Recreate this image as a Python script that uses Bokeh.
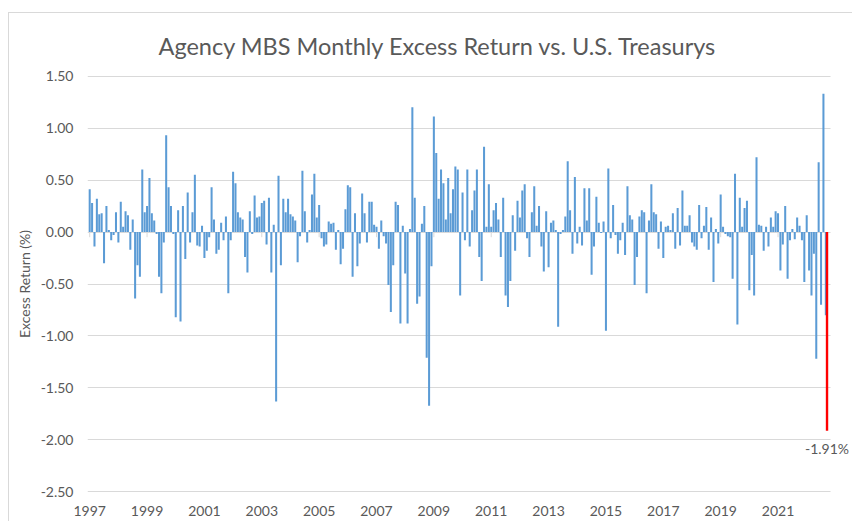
import pandas as pd
from bokeh.plotting import figure
from bokeh.models import Range1d, FixedTicker, NumeralTickFormatter, Label, ColumnDataSource, BoxAnnotation
from bokeh.transform import dodge
from bokeh.embed import file_html
from bokeh.resources import INLINE

# Monthly excess returns (%), Jan 1997 - Sep 2022
ret_1997_2000 = [0.41, 0.28, -0.14, 0.32, 0.17, 0.18, -0.30, 0.25, 0.02, -0.08, -0.03, 0.19,
                 -0.10, 0.29, 0.05, 0.20, 0.16, -0.17, 0.12, -0.64, -0.32, -0.43, 0.60, 0.19,
                 0.25, 0.52, 0.18, 0.11, -0.02, -0.43, -0.59, -0.10, 0.93, 0.43, 0.25, -0.02,
                 -0.82, 0.21, -0.86, 0.25, -0.26, 0.38, -0.10, 0.19, 0.55, -0.13, -0.14, 0.06]
ret_2001_2004 = [-0.25, -0.18, -0.05, 0.43, 0.12, -0.21, -0.17, 0.09, -0.08, 0.15, -0.59, -0.08,
                 0.58, 0.47, 0.19, 0.14, 0.12, -0.24, -0.39, 0.20, -0.02, 0.35, 0.14, 0.15,
                 0.28, 0.30, -0.12, 0.33, -0.39, 0.07, -1.63, 0.54, -0.32, 0.32, 0.19, 0.32,
                 0.17, 0.15, 0.11, -0.29, -0.04, 0.59, 0.20, -0.10, 0.02, 0.36, 0.56, 0.14]
ret_2005_2008 = [0.26, -0.06, -0.14, -0.12, 0.10, 0.08, 0.09, -0.17, 0.02, -0.31, -0.16, 0.22,
                 0.45, 0.43, -0.43, 0.18, -0.33, -0.11, 0.37, 0.18, -0.10, 0.29, 0.29, 0.07,
                 0.05, -0.16, 0.11, -0.04, -0.11, -0.51, -0.77, -0.32, 0.29, 0.26, -0.88, 0.06,
                 -0.40, -0.88, 0.03, 1.20, 0.33, -0.69, -0.62, 0.08, 0.25, -1.21, -1.67, -0.33]
ret_2009_2012 = [1.11, 0.76, 0.32, 0.60, 0.47, 0.12, 0.52, 0.18, 0.41, 0.63, 0.60, -0.61,
                 0.38, -0.08, 0.60, -0.14, 0.21, 0.40, 0.60, -0.24, -0.47, 0.82, 0.05, 0.46,
                 0.05, 0.21, 0.28, 0.12, -0.24, 0.33, -0.61, -0.72, -0.47, 0.16, -0.18, 0.30,
                 0.14, 0.40, 0.46, -0.06, -0.24, 0.19, 0.44, 0.06, 0.25, -0.14, -0.38, 0.20]
ret_2013_2016 = [-0.34, 0.09, 0.11, 0.02, -0.91, -0.02, 0.02, 0.15, 0.68, 0.21, -0.21, 0.53,
                 -0.11, 0.05, -0.13, 0.42, 0.11, 0.42, -0.41, -0.14, 0.34, 0.09, -0.01, 0.10,
                 -0.95, 0.61, -0.06, 0.26, -0.03, -0.21, -0.08, 0.09, -0.22, 0.44, 0.16, 0.12,
                 -0.51, -0.24, 0.15, 0.21, 0.19, -0.59, 0.11, 0.46, 0.19, 0.17, -0.16, 0.10]
ret_2017_2020 = [-0.25, 0.05, 0.06, 0.02, 0.18, -0.16, 0.23, -0.13, 0.40, 0.06, 0.06, 0.16,
                 -0.10, -0.14, -0.17, 0.26, -0.06, 0.06, 0.24, -0.17, 0.14, -0.48, 0.03, -0.11,
                 0.36, 0.05, -0.02, -0.04, -0.05, -0.45, 0.56, -0.89, 0.33, 0.05, 0.23, 0.30,
                 -0.56, -0.22, -0.61, 0.72, 0.07, 0.06, -0.18, 0.05, -0.14, 0.14, 0.05, 0.20]
ret_2021_2022 = [0.18, -0.37, -0.12, 0.25, -0.45, -0.08, 0.03, -0.07, 0.14, 0.06, -0.08, -0.48,
                 0.16, -0.37, -0.61, -0.21, -1.22, 0.67, -0.70, 1.33, -0.80]

highlight_value = [-1.91]
highlight_label = ["-1.91%"]

tick_years = ["1997", "1999", "2001", "2003", "2005", "2007", "2009",
              "2011", "2013", "2015", "2017", "2019", "2021"]
y_ticks = [-2.5, -2.0, -1.5, -1.0, -0.5, 0.0, 0.5, 1.0, 1.5]

returns = (ret_1997_2000 + ret_2001_2004 + ret_2005_2008 + ret_2009_2012 +
           ret_2013_2016 + ret_2017_2020 + ret_2021_2022)
months = pd.date_range("1997-01-01", periods=len(returns), freq="MS")
idx = list(range(len(returns)))

tick_pos = [int(i) for i, m in enumerate(months) if m.month == 1 and str(m.year) in tick_years]
tick_overrides = {p: str(months[p].year) for p in tick_pos}

FONT = "Lato"
GRAY = "#595959"
GRID = "#d9d9d9"
BLUE = "#5B9BD5"

# plot area (category units): left edge, right edge of the gridded area, canvas edge
x_left = -0.92
x_grid_end = len(returns) + 0.97
x_canvas_end = len(returns) + 10.16

p = figure(width=852, height=521,
           x_range=Range1d(x_left, x_canvas_end),
           y_range=Range1d(-2.505, 1.505),
           output_backend="svg", toolbar_location=None,
           min_border_left=87, min_border_right=0, min_border_top=75, min_border_bottom=29)
p.outline_line_color = None
p.background_fill_color = "white"
p.border_fill_color = None
# light chart-area border (left and top edges) painted behind the transparent canvas border
p.styles = {
    "background": ("linear-gradient(#d9d9d9, #d9d9d9) 8px 12px / 1px 100% no-repeat, "
                   "linear-gradient(#d9d9d9, #d9d9d9) 8px 12px / 100% 1px no-repeat, white"),
}

p.title.text = "Agency MBS Monthly Excess Return vs. U.S. Treasurys"
p.title.align = "left"
p.title.offset = 71
p.title.text_font = FONT
p.title.text_font_size = "23.5px"
p.title.text_font_style = "normal"
p.title.text_color = GRAY
p.title.standoff = 31

src = ColumnDataSource(dict(x=idx, ret=returns))

tick_src = ColumnDataSource(dict(x=tick_pos, y0=[0.0] * len(tick_pos), y1=[-0.05] * len(tick_pos)))
p.segment(x0="x", y0="y0", x1="x", y1="y1", source=tick_src, line_color=GRID, line_width=1)

p.vbar(x="x", top="ret", bottom=0, width=0.85, source=src, fill_color=BLUE, line_color=None)

hl_src = ColumnDataSource(dict(x=[idx[-1]], val=highlight_value, lab=highlight_label))
p.vbar(x=dodge("x", 0.5, range=p.x_range), top=0, bottom="val", width=1.0, source=hl_src,
       fill_color="#FF0000", line_color=None)

# blank the area right of the gridded plot area
p.add_layout(BoxAnnotation(left=x_grid_end, fill_color="white", fill_alpha=1.0,
                           line_color=None, level="underlay"))

lab = Label(x=idx[-1] + 0.5, y=highlight_value[0], text=highlight_label[0],
            text_align="center", text_baseline="top", y_offset=-9,
            text_font=FONT, text_font_size="14px", text_color=GRAY)
p.add_layout(lab)

p.xgrid.grid_line_color = None
p.ygrid.ticker = FixedTicker(ticks=y_ticks)
p.ygrid.grid_line_color = GRID
p.ygrid.grid_line_width = 1

p.yaxis.ticker = FixedTicker(ticks=y_ticks)
p.yaxis.formatter = NumeralTickFormatter(format="0.00")
p.yaxis.axis_label = "Excess Return (%)"
p.yaxis.axis_label_text_font = FONT
p.yaxis.axis_label_text_font_size = "14px"
p.yaxis.axis_label_text_font_style = "normal"
p.yaxis.axis_label_text_color = GRAY
p.yaxis.axis_label_standoff = 5
p.yaxis.major_label_standoff = 14

p.xaxis.ticker = FixedTicker(ticks=tick_pos)
p.xaxis.major_label_overrides = tick_overrides
p.xaxis.major_label_standoff = 13

for ax in (p.xaxis, p.yaxis):
    ax.axis_line_color = None
    ax.major_tick_line_color = None
    ax.minor_tick_line_color = None
    ax.major_tick_out = 0
    ax.major_tick_in = 0
    ax.minor_tick_out = 0
    ax.minor_tick_in = 0
    ax.major_label_text_font = FONT
    ax.major_label_text_font_size = "14px"
    ax.major_label_text_color = GRAY

open("out.html", "w").write(file_html(p, INLINE))
